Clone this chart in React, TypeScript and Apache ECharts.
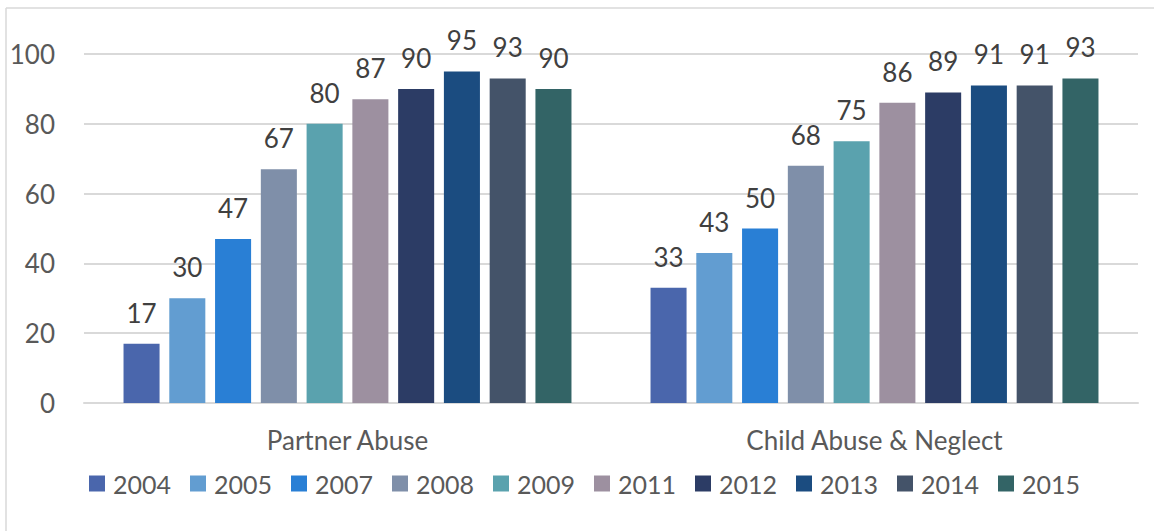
import React, { useEffect, useRef } from "react";
import * as echarts from "echarts";

const categories = ["Partner Abuse", "Child Abuse & Neglect"];
const years = ["2004", "2005", "2007", "2008", "2009", "2011", "2012", "2013", "2014", "2015"];
const partnerAbuse = [17, 30, 47, 67, 80, 87, 90, 95, 93, 90];
const childAbuse = [33, 43, 50, 68, 75, 86, 89, 91, 91, 93];
const colors = ["#4A66AC", "#629DD1", "#297FD5", "#7F8FA9", "#5AA2AE", "#9D90A0", "#2C3C65", "#1B4C80", "#445369", "#336466"];
const yTicks = { min: 0, max: 100, interval: 20 };

const FONT = "Lato, 'Open Sans', sans-serif";

export default function App() {
  const ref = useRef<HTMLDivElement>(null);
  useEffect(() => {
    if (!ref.current) return;
    const chart = echarts.init(ref.current, undefined, { renderer: "svg" });
    chart.setOption({
      animation: false,
      textStyle: { fontFamily: FONT },
      grid: { left: 84, right: 16, top: 54, bottom: 128, containLabel: false },
      legend: {
        data: years,
        bottom: 30,
        left: 84,
        itemWidth: 16,
        itemHeight: 16,
        itemGap: 19,
        icon: "rect",
        textStyle: { fontSize: 25, color: "#595959", fontFamily: FONT, padding: [0, 0, 0, 3] },
      },
      xAxis: {
        type: "category",
        data: categories,
        axisLine: { lineStyle: { color: "#D9D9D9", width: 2 } },
        axisTick: { show: false },
        axisLabel: { fontSize: 26, color: "#595959", margin: 24, fontFamily: FONT },
      },
      yAxis: {
        type: "value",
        min: yTicks.min,
        max: yTicks.max,
        interval: yTicks.interval,
        axisLine: { show: false },
        axisTick: { show: false },
        splitLine: { lineStyle: { color: "#D9D9D9", width: 2 } },
        axisLabel: { fontSize: 26, color: "#595959", margin: 29, fontFamily: FONT },
      },
      graphic: [
        { type: "line", shape: { x1: 6, y1: 8, x2: 6, y2: 531 }, style: { stroke: "#D9D9D9", lineWidth: 1.5 } },
        { type: "line", shape: { x1: 6, y1: 8, x2: 1154, y2: 8 }, style: { stroke: "#D9D9D9", lineWidth: 1.5 } },
      ],
      series: years.map((y, i) => ({
        name: y,
        type: "bar",
        data: [partnerAbuse[i], childAbuse[i]],
        barGap: "27%",
        barCategoryGap: "15%",
        itemStyle: { color: colors[i] },
        label: {
          show: true,
          position: "top",
          distance: 18,
          fontSize: 26,
          color: "#404040",
          fontFamily: FONT,
        },
      })),
    });
    return () => chart.dispose();
  }, []);
  return <div ref={ref} style={{ position: "absolute", left: 0, top: 0, width: 1154, height: 531 }} />;
}
